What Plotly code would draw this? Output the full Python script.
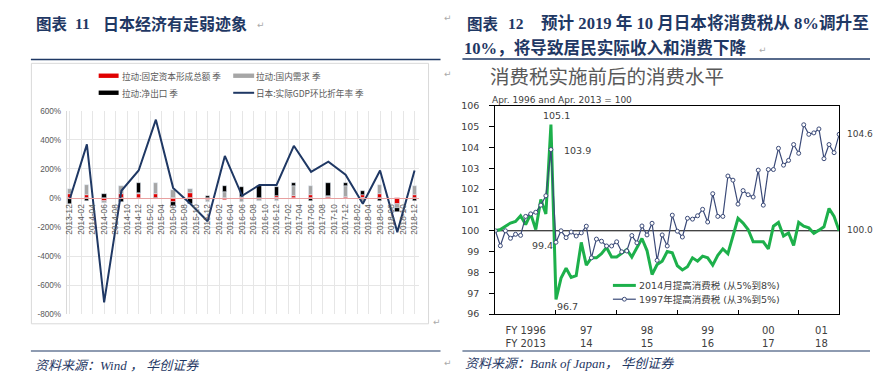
import plotly.graph_objects as go

W, H = 881, 391

# ---------------- Left chart data (Fig.11) ----------------
quarters = ["2013-12", "2014-03", "2014-06", "2014-09", "2014-12", "2015-03", "2015-06",
            "2015-09", "2015-12", "2016-03", "2016-06", "2016-09", "2016-12", "2017-03",
            "2017-06", "2017-09", "2017-12", "2018-03", "2018-06", "2018-09", "2018-12"]
gdp_saar = [-10, 370, -720, 50, 190, 540, 70, -40, -160, 290, 15, 90, 90, 360, 180, 250,
            160, -40, 190, -235, 190]
pull_fixed_capital = [25, 20, -20, 25, 25, 25, -30, 38, -10, -15, 10, 0, 15, 15, 20, 10, 5,
                      22, 25, -40, 22]
pull_domestic = [40, 70, -15, 55, 10, 80, 53, 22, -20, 40, -25, -20, -20, 70, 62, 5, 77,
                 -30, 64, -30, 60]
pull_net_export = [-40, -18, 25, -25, 70, -5, -28, -40, 15, 45, 65, 80, 60, 20, -22, 90, 22,
                   27, -18, -25, -22]
month_ticks = ["2013-12", "2014-02", "2014-04", "2014-06", "2014-08", "2014-10", "2014-12",
               "2015-02", "2015-04", "2015-06", "2015-08", "2015-10", "2015-12", "2016-02",
               "2016-04", "2016-06", "2016-08", "2016-10", "2016-12", "2017-02", "2017-04",
               "2017-06", "2017-08", "2017-10", "2017-12", "2018-02", "2018-04", "2018-06",
               "2018-08", "2018-10", "2018-12"]
left_yticks = [600, 400, 200, 0, -200, -400, -600, -800]
left_yticklabels = ["600%", "400%", "200%", "0%", "-200%", "-400%", "-600%", "-800%"]

# ---------------- Right chart data (Fig.12) ----------------
tax_2014 = [100.0, 100.06, 100.22, 100.37, 100.45, 100.72, 100.3, 100.81, 100.06, 101.5,
            100.81, 105.1, 96.7, 97.73, 98.2, 97.76, 97.85, 99.44, 98.35, 98.7, 98.7, 98.9,
            99.2, 98.74, 98.74, 98.9, 99.1, 98.74, 99.2, 99.63, 99.05, 97.9, 98.38, 98.54,
            99.0, 98.94, 98.32, 98.12, 98.27, 98.7, 98.54, 98.78, 98.7, 98.35, 98.82, 99.13,
            98.9, 99.75, 100.6, 100.37, 100.06, 99.47, 99.47, 99.47, 99.13, 100.22, 100.4,
            99.75, 99.9, 99.3, 100.4, 100.22, 100.14, 99.88, 100.03, 100.19, 101.07, 100.69,
            100.0]
tax_1997 = [100.0, 99.28, 100.0, 99.64, 99.83, 99.78, 100.69, 100.81, 100.89, 101.23, 101.68,
            103.9, 99.45, 100.0, 99.67, 99.94, 99.75, 99.9, 100.22, 98.7, 99.6, 99.5, 99.27,
            99.27, 99.47, 98.99, 99.03, 99.77, 99.42, 100.23, 99.8, 100.36, 98.58, 99.8, 99.27,
            100.75, 99.98, 99.7, 100.6, 100.56, 100.72, 101.03, 100.42, 101.78, 100.69, 100.69,
            102.63, 102.43, 101.28, 101.93, 101.73, 101.62, 102.91, 101.23, 102.94, 102.94,
            103.96, 103.15, 103.38, 104.14, 103.72, 105.09, 104.63, 104.7, 104.89, 103.46,
            104.14, 103.75, 104.63]
fy_labels = ["FY 1996<br>FY 2013", "97<br>14", "98<br>15", "99<br>16", "00<br>17", "01<br>18"]
fy_label_pos = [6, 18, 30, 42, 54, 64.5]
fy_bounds = [12, 24, 36, 48, 60]

NAVY = "#1F3864"
CJK = "Noto Sans CJK SC"


def P(x, y):
    return x / W, 1 - y / H


fig = go.Figure()

qx = [i * 3 for i in range(len(quarters))]
fig.add_trace(go.Bar(x=qx, y=pull_fixed_capital, marker_color="#E00000", width=0.75,
                     xaxis="x", yaxis="y", name="拉动:固定资本形成总额 季"))
fig.add_trace(go.Bar(x=qx, y=pull_domestic, marker_color="#A6A6A6", width=0.75,
                     xaxis="x", yaxis="y", name="拉动:国内需求 季"))
fig.add_trace(go.Bar(x=qx, y=pull_net_export, marker_color="#000000", width=0.75,
                     xaxis="x", yaxis="y", name="拉动:净出口 季"))
fig.add_trace(go.Scatter(x=qx, y=gdp_saar, mode="lines", line=dict(color=NAVY, width=2),
                         xaxis="x", yaxis="y", name="日本:实际GDP环比折年率 季"))

mx = list(range(len(tax_2014)))
fig.add_trace(go.Scatter(x=mx, y=tax_2014, mode="lines", line=dict(color="#1DB04B", width=3),
                         xaxis="x2", yaxis="y2", name="2014"))
fig.add_trace(go.Scatter(x=mx, y=tax_1997, mode="lines+markers",
                         line=dict(color="#3B4A78", width=1.2),
                         marker=dict(size=4, color="white", line=dict(color="#3B4A78", width=1)),
                         xaxis="x2", yaxis="y2", name="1997"))

zero_pos = 1 - 197.5 / H
fig.update_layout(
    width=W, height=H, margin=dict(l=0, r=0, t=0, b=0), autosize=False,
    paper_bgcolor="white", plot_bgcolor="white", showlegend=False, barmode="relative",
    bargap=0,
    xaxis=dict(domain=[65 / W, 418 / W], range=[-0.5, 60.7], anchor="free", position=zero_pos,
               tickmode="array", tickvals=list(range(0, 61, 2)), ticktext=month_ticks,
               tickangle=-90, tickfont=dict(family="Liberation Sans", size=8.3, color="#595959"),
               showgrid=True, gridcolor="#e6e6e6", gridwidth=1, showline=True,
               linecolor="#e8a0a0", linewidth=1, ticks="", zeroline=False,
               ticklabelstandoff=2),
    yaxis=dict(domain=[1 - 317 / H, 1 - 108 / H], range=[-800, 600], tickmode="array",
               tickvals=left_yticks, ticktext=left_yticklabels,
               tickfont=dict(family="Liberation Sans", size=8.2, color="#595959"),
               showgrid=True, gridcolor="#e6e6e6", zeroline=False, showline=True,
               linecolor="#d9d9d9", ticks="", anchor="x", ticklabelstandoff=3),
    xaxis2=dict(domain=[495 / W, 840 / W], range=[0, 68], anchor="y2", showline=True,
                linecolor="black", linewidth=1, mirror=True, showgrid=False, zeroline=False,
                tickmode="array", tickvals=fy_label_pos, ticktext=fy_labels, ticks="",
                tickfont=dict(family="DejaVu Sans", size=10, color="#404040"),
                minor=dict(tickmode="array", tickvals=fy_bounds, ticks="inside", ticklen=4,
                           tickcolor="black"),
                ticklabelstandoff=7),
    yaxis2=dict(domain=[1 - 317 / H, 1 - 102.7 / H], range=[96, 106], anchor="x2",
                dtick=1, tick0=96, ticks="outside", ticklen=5, tickcolor="black",
                showline=True, linecolor="black", linewidth=1, mirror=True, showgrid=False,
                zeroline=False, tickfont=dict(family="DejaVu Sans", size=9.5, color="#404040"),
                ticklabelstandoff=8),
)

shapes = []


def hline(x0, x1, y, color, width):
    a = P(x0, y)
    b = P(x1, y)
    shapes.append(dict(type="line", xref="paper", yref="paper", x0=a[0], y0=a[1], x1=b[0],
                       y1=b[1], line=dict(color=color, width=width)))


def rect(x0, y0, x1, y1, fill, line=None):
    a = P(x0, y0)
    b = P(x1, y1)
    shapes.append(dict(type="rect", xref="paper", yref="paper", x0=a[0], y0=a[1], x1=b[0],
                       y1=b[1], fillcolor=fill,
                       line=dict(color=line if line else fill, width=1 if line else 0)))


# left chart frame
rect(29.5, 59, 428, 327, "rgba(0,0,0,0)", "#d9d9d9")
# rules
hline(29, 440, 55, NAVY, 1.5)
hline(462, 871, 54.5, NAVY, 1.5)
hline(29, 440, 355, NAVY, 1.2)
hline(462, 871, 355, NAVY, 1.2)
# left legend swatches
rect(97, 69.5, 117, 74, "#E00000")
rect(232, 69.5, 253, 74, "#A6A6A6")
rect(97, 87, 117, 91.5, "#000000")
hline(232, 253, 89.3, NAVY, 2)
# right legend swatches
hline(613, 636, 287.5, "#1DB04B", 3)
hline(613, 636, 301.7, "#3B4A78", 1.2)
c = P(624.5, 301.7)
shapes.append(dict(type="circle", xref="paper", yref="paper", x0=c[0] - 2 / W, x1=c[0] + 2 / W,
                   y0=c[1] - 2 / H, y1=c[1] + 2 / H, fillcolor="white",
                   line=dict(color="#3B4A78", width=1)))
# 100 line
shapes.append(dict(type="line", xref="x2", yref="y2", x0=0, x1=68, y0=100, y1=100,
                   line=dict(color="black", width=1), layer="below"))
fig.update_layout(shapes=shapes)

ann = []


def text(x, y, s, size, color="#333", family=CJK, anchor="left", bold=False, italic=False):
    p = P(x, y)
    if bold:
        s = "<b>" + s + "</b>"
    if italic:
        s = "<i>" + s + "</i>"
    ann.append(dict(x=p[0], y=p[1], xref="paper", yref="paper", text=s, showarrow=False,
                    xanchor=anchor, yanchor="middle", font=dict(size=size, color=color,
                                                                family=family)))


# titles
text(32, 18, "图表", 15.5, NAVY, bold=True)
text(71, 18, "11", 15.5, NAVY, family="Liberation Serif, " + CJK, bold=True)
text(99, 18, "日本经济有走弱迹象", 16, NAVY, bold=True)
text(254, 20, "↵", 9, "#aaaaaa", family="DejaVu Sans")
text(465, 18, "图表", 15.5, NAVY, bold=True)
text(506, 18, "12", 15.5, NAVY, family="Liberation Serif, " + CJK, bold=True)
text(539, 18, "预计 2019 年 10 月日本将消费税从 8%调升至", 16.6, NAVY,
     family="Liberation Serif, " + CJK, bold=True)
text(462, 43.5, "10%，将导致居民实际收入和消费下降", 16.6, NAVY,
     family="Liberation Serif, " + CJK, bold=True)
text(758, 45, "↵", 9, "#aaaaaa", family="DejaVu Sans")
text(442, 12, "↵", 9, "#aaaaaa", family="DejaVu Sans")
text(442, 70, "↵", 9, "#aaaaaa", family="DejaVu Sans")
text(430, 325, "↵", 9, "#aaaaaa", family="DejaVu Sans")
text(442, 367, "↵", 9, "#aaaaaa", family="DejaVu Sans")

# right chart headings
text(488, 72, "消费税实施前后的消费水平", 19.5, "#595959")
text(490, 97, "Apr. 1996 and Apr. 2013 = 100", 9, "#404040", family="DejaVu Sans")

# left legend text
text(118, 71.7, "拉动:固定资本形成总额 季", 8.6, "#595959")
text(253, 71.7, "拉动:国内需求 季", 8.6, "#595959")
text(118, 89.3, "拉动:净出口 季", 8.6, "#595959")
text(253, 89.3, "日本:实际GDP环比折年率 季", 8.6, "#595959")

# right legend text
text(637, 287.5, "2014月提高消费税 (从5%到8%)", 9.5, "#404040", family="DejaVu Sans, " + CJK)
text(637, 301.7, "1997年提高消费税 (从3%到5%)", 9.5, "#404040", family="DejaVu Sans, " + CJK)

# data labels
text(541, 112.7, "105.1", 9.5, "#404040", family="DejaVu Sans")
text(562, 148.3, "103.9", 9.5, "#404040", family="DejaVu Sans")
text(530, 246, "99.4", 9.5, "#404040", family="DejaVu Sans")
text(555, 309.3, "96.7", 9.5, "#404040", family="DejaVu Sans")
text(846, 131.5, "104.6", 9, "#404040", family="DejaVu Sans")
text(846, 230.7, "100.0", 9, "#404040", family="DejaVu Sans")

# sources
text(31, 370, "资料来源：Wind ， 华创证券", 13, NAVY, family="Liberation Serif, " + CJK, italic=True)
text(463, 368, "资料来源：Bank of Japan， 华创证券", 13, NAVY, family="Liberation Serif, " + CJK,
     italic=True)

fig.update_layout(annotations=ann)
fig.write_html("out.html", config={"displayModeBar": False},
               post_script="document.body.style.margin='0';document.body.style.overflow='hidden';")
